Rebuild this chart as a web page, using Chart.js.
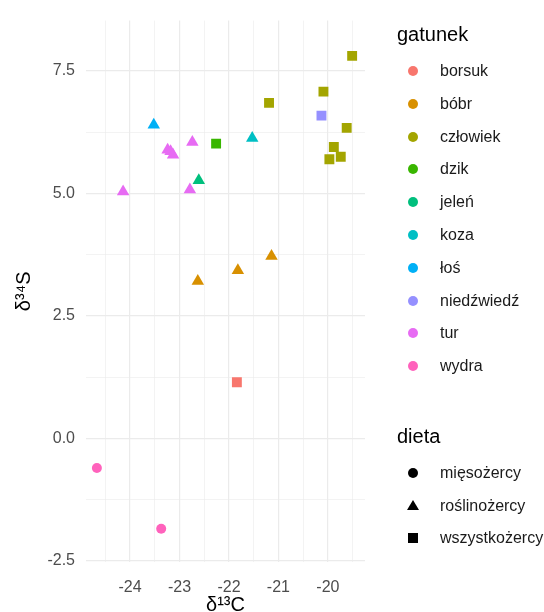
<!DOCTYPE html>
<html>
<head>
<meta charset="utf-8">
<script src="https://cdn.jsdelivr.net/npm/chart.js@4"></script>
<style>
  body { margin: 0; background: #fff; }
  #wrap { position: relative; width: 544px; height: 612px; font-family: "Liberation Sans", Arial, sans-serif; }
  #wykres { position: absolute; left: 0; top: 0; }
  .leg-title { position: absolute; left: 397px; font-size: 20px; line-height: 24px; color: #000; }
  .leg-row { position: absolute; left: 0; width: 544px; height: 24px; }
  .leg-row span { position: absolute; left: 440px; font-size: 16px; line-height: 24px; color: #1a1a1a; }
  .key { position: absolute; }
</style>
</head>
<body>
<div id="wrap">
  <canvas id="wykres" width="544" height="612"></canvas>
  <div id="legenda"></div>
</div>
<script>
// gatunki i ich kolory (paleta ggplot)
const gatunki = ['borsuk', 'bóbr', 'człowiek', 'dzik', 'jeleń', 'koza', 'łoś', 'niedźwiedź', 'tur', 'wydra'];
const kolory = ['#F8766D', '#D89000', '#A3A500', '#39B600', '#00BF7D', '#00BFC4', '#00B0F6', '#9590FF', '#E76BF3', '#FF62BC'];
const diety = ['mięsożercy', 'roślinożercy', 'wszystkożercy'];
const dietaGatunku = ['wszystkożercy', 'roślinożercy', 'wszystkożercy', 'wszystkożercy', 'roślinożercy',
                      'roślinożercy', 'roślinożercy', 'wszystkożercy', 'roślinożercy', 'mięsożercy'];

// próbki: gatunek, δ13C, δ34S
const probkiGatunek = ['borsuk',
  'bóbr', 'bóbr', 'bóbr',
  'człowiek', 'człowiek', 'człowiek', 'człowiek', 'człowiek', 'człowiek', 'człowiek',
  'dzik', 'jeleń', 'koza', 'łoś', 'niedźwiedź',
  'tur', 'tur', 'tur', 'tur', 'tur', 'tur',
  'wydra', 'wydra'];
const d13C = [-21.84,
  -21.14, -21.82, -22.63,
  -19.51, -20.09, -21.19, -19.62, -19.88, -19.97, -19.74,
  -22.26, -22.61, -21.53, -23.52, -20.13,
  -22.74, -23.24, -23.18, -23.13, -24.14, -22.79,
  -24.67, -23.37];
const d34S = [1.15,
  3.72, 3.43, 3.21,
  7.81, 7.08, 6.85, 6.34, 5.95, 5.70, 5.75,
  6.02, 5.27, 6.13, 6.40, 6.59,
  6.05, 5.89, 5.86, 5.79, 5.04, 5.08,
  -0.60, -1.84];

// kształt i rozmiar punktu dla każdej diety
const ksztalty = { 'mięsożercy': ['circle', 5], 'roślinożercy': ['triangle', 7.2], 'wszystkożercy': ['rect', 7] };

const datasets = gatunki.map((g, i) => {
  const pts = [];
  probkiGatunek.forEach((pg, j) => { if (pg === g) pts.push({ x: d13C[j], y: d34S[j] }); });
  const [styl, r] = ksztalty[dietaGatunku[i]];
  return {
    label: g,
    data: pts,
    pointStyle: styl,
    pointRadius: r,
    pointHoverRadius: r,
    backgroundColor: kolory[i],
    borderColor: kolory[i],
    borderWidth: 0
  };
});

const siatka = (major) => ({
  color: '#EBEBEB',
  lineWidth: ctx => (ctx.tick && major(ctx.tick.value)) ? 1.2 : 0.6,
  drawTicks: false
});
const jestX = v => Math.abs(v - Math.round(v)) < 1e-6;
const jestY = v => Math.abs(v / 2.5 - Math.round(v / 2.5)) < 1e-6;

new Chart(document.getElementById('wykres'), {
  type: 'scatter',
  data: { datasets },
  options: {
    responsive: false,
    animation: false,
    layout: { padding: { top: 13, right: 179, left: 0, bottom: 0 } },
    plugins: { legend: { display: false }, tooltip: { enabled: false } },
    scales: {
      x: {
        type: 'linear',
        min: -24.89, max: -19.25,
        border: { display: false },
        grid: siatka(jestX),
        ticks: {
          stepSize: 0.5, includeBounds: false, padding: 16, autoSkip: false, maxRotation: 0,
          color: '#4D4D4D', font: { family: 'Liberation Sans', size: 16 },
          callback: v => jestX(v) ? String(Math.round(v)) : ''
        },
        title: { display: true, text: 'δ¹³C', color: '#000', font: { family: 'Liberation Sans', size: 20 }, padding: { top: 0, bottom: -5 } },
        afterFit: s => { s.height = 50; }
      },
      y: {
        type: 'linear',
        min: -2.52, max: 8.53,
        border: { display: false },
        grid: siatka(jestY),
        ticks: {
          stepSize: 1.25, includeBounds: false, padding: 11, autoSkip: false,
          color: '#4D4D4D', font: { family: 'Liberation Sans', size: 16 },
          callback: v => jestY(v) ? v.toFixed(1) : ''
        },
        title: { display: true, text: 'δ³⁴S', color: '#000', font: { family: 'Liberation Sans', size: 20 }, padding: { top: 12, bottom: 0 } },
        afterFit: s => { s.width = 86; }
      }
    }
  }
});

// legendy (HTML)
const legenda = document.getElementById('legenda');
function tytul(tekst, cy) {
  const el = document.createElement('div');
  el.className = 'leg-title';
  el.style.top = (cy - 12) + 'px';
  el.textContent = tekst;
  legenda.appendChild(el);
}
function klucz(styl, kolor) {
  const k = document.createElement('div');
  k.className = 'key';
  if (styl === 'circle') {
    Object.assign(k.style, { left: '408px', top: '7px', width: '10px', height: '10px', borderRadius: '50%', background: kolor });
  } else if (styl === 'triangle') {
    Object.assign(k.style, { left: '407px', top: '6.5px', width: '0', height: '0',
      borderLeft: '6px solid transparent', borderRight: '6px solid transparent', borderBottom: '10.5px solid ' + kolor });
  } else {
    Object.assign(k.style, { left: '408.25px', top: '7.25px', width: '9.5px', height: '9.5px', background: kolor });
  }
  return k;
}
function wiersz(tekst, cy, k) {
  const row = document.createElement('div');
  row.className = 'leg-row';
  row.style.top = (cy - 12) + 'px';
  row.appendChild(k);
  const s = document.createElement('span');
  s.textContent = tekst;
  row.appendChild(s);
  legenda.appendChild(row);
}

tytul('gatunek', 34);
gatunki.forEach((g, i) => wiersz(g, 71 + i * 32.8, klucz('circle', kolory[i])));
tytul('dieta', 436);
diety.forEach((d, i) => wiersz(d, 473 + i * 32.5, klucz(ksztalty[d][0], '#000')));
</script>
</body>
</html>
